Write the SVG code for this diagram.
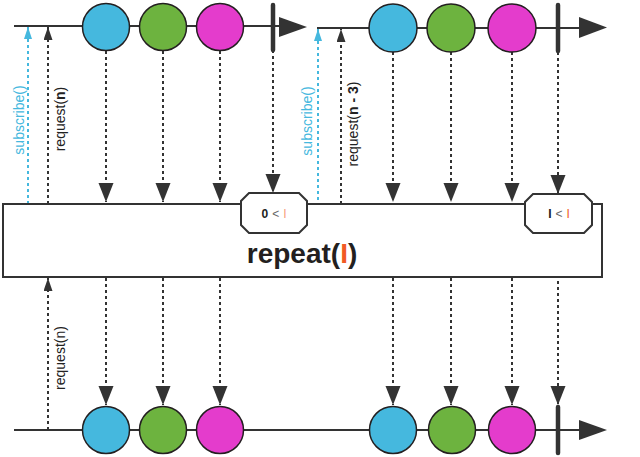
<svg xmlns="http://www.w3.org/2000/svg" width="640" height="457" viewBox="0 0 640 457">
<defs>
<style>
.line{stroke:#333;stroke-width:2;fill:none}
.tick{stroke:#333;stroke-width:4.5;stroke-linecap:round}
.dot{stroke:#333;stroke-width:2;stroke-dasharray:3 3;fill:none}
.bdot{stroke:#45b8de;stroke-width:2;stroke-dasharray:3 3;fill:none}
.head{fill:#333}
.c{stroke:#231f20;stroke-width:1.5}
.blue{fill:#45b8de}.green{fill:#6db33f}.mag{fill:#e43ccc}
.box{fill:#fff;stroke:#333;stroke-width:2}
.lbl{font-family:"Liberation Sans",Arial,sans-serif;font-size:14px;fill:#222}
.blbl{font-family:"Liberation Sans",Arial,sans-serif;font-size:14px;fill:#45b8de}
.small{font-family:"Liberation Sans",Arial,sans-serif;font-size:12px}
</style>
<marker id="down" markerUnits="userSpaceOnUse" markerWidth="20" markerHeight="16" refX="19" refY="7.5" orient="auto"><path d="M0,0 L19,7.5 L0,15 Z" fill="#333"/></marker>
<marker id="up" markerUnits="userSpaceOnUse" markerWidth="14" markerHeight="10" refX="13" refY="4.5" orient="auto"><path d="M0,0 L13,4.5 L0,9 Z" fill="#333"/></marker>
<marker id="upb" markerUnits="userSpaceOnUse" markerWidth="14" markerHeight="10" refX="12" refY="4" orient="auto"><path d="M0,0 L12,4 L0,8 Z" fill="#45b8de"/></marker>
</defs>

<g id="connectors">
<line class="bdot" x1="28" y1="204" x2="28" y2="27" marker-end="url(#upb)"/>
<line class="dot" x1="48" y1="204" x2="48" y2="27" marker-end="url(#up)"/>
<polyline class="bdot" points="307,213 318,213 318,29" marker-end="url(#upb)"/>
<line class="dot" x1="341" y1="204" x2="341" y2="29" marker-end="url(#up)"/>
<line class="dot" x1="106" y1="51" x2="106" y2="202" marker-end="url(#down)"/>
<line class="dot" x1="163" y1="51" x2="163" y2="202" marker-end="url(#down)"/>
<line class="dot" x1="220" y1="51" x2="220" y2="202" marker-end="url(#down)"/>
<line class="dot" x1="273" y1="50" x2="273" y2="193" marker-end="url(#down)"/>
<line class="dot" x1="393" y1="52" x2="393" y2="202" marker-end="url(#down)"/>
<line class="dot" x1="451" y1="52" x2="451" y2="202" marker-end="url(#down)"/>
<line class="dot" x1="512" y1="52" x2="512" y2="202" marker-end="url(#down)"/>
<line class="dot" x1="558" y1="52" x2="558" y2="194" marker-end="url(#down)"/>
<line class="dot" x1="48" y1="430" x2="48" y2="278" marker-end="url(#up)"/>
<line class="dot" x1="106" y1="278" x2="106" y2="405" marker-end="url(#down)"/>
<line class="dot" x1="163" y1="278" x2="163" y2="405" marker-end="url(#down)"/>
<line class="dot" x1="220" y1="278" x2="220" y2="405" marker-end="url(#down)"/>
<line class="dot" x1="393" y1="278" x2="393" y2="405" marker-end="url(#down)"/>
<line class="dot" x1="451" y1="278" x2="451" y2="405" marker-end="url(#down)"/>
<line class="dot" x1="512" y1="278" x2="512" y2="405" marker-end="url(#down)"/>
<line class="dot" x1="558" y1="233" x2="558" y2="405" marker-end="url(#down)"/>
</g>

<g id="timeline-top-1">
<line class="line" x1="14" y1="26" x2="282" y2="26"/>
<path class="head" d="M279,17 L307,27 L279,37 Z"/>
<line class="tick" x1="273" y1="5" x2="273" y2="50"/>
<circle class="c blue" cx="106" cy="27" r="23.5"/>
<circle class="c green" cx="163" cy="27" r="23.5"/>
<circle class="c mag" cx="220" cy="27" r="23.5"/>
</g>

<g id="timeline-top-2">
<line class="line" x1="317" y1="28" x2="582" y2="28"/>
<path class="head" d="M579,17 L607,27.5 L579,38 Z"/>
<line class="tick" x1="558" y1="5" x2="558" y2="51"/>
<circle class="c blue" cx="393" cy="28" r="24"/>
<circle class="c green" cx="451" cy="28" r="24"/>
<circle class="c mag" cx="512" cy="28" r="24"/>
</g>

<g id="labels">
<text class="blbl" transform="translate(24,120) rotate(-90)" text-anchor="middle">subscribe()</text>
<text class="lbl" transform="translate(65,119) rotate(-90)" text-anchor="middle">request(<tspan font-weight="bold">n</tspan>)</text>
<text class="blbl" transform="translate(312,121) rotate(-90)" text-anchor="middle">subscribe()</text>
<text class="lbl" transform="translate(358,124) rotate(-90)" text-anchor="middle">request(<tspan font-weight="bold">n - 3</tspan>)</text>
<text class="lbl" transform="translate(65,358) rotate(-90)" text-anchor="middle">request(n)</text>
</g>

<g id="operator">
<rect class="box" x="3" y="204" width="599" height="73"/>
<text x="302" y="263" text-anchor="middle" font-family="'Liberation Sans',Arial,sans-serif" font-size="28" font-weight="bold" fill="#231f20">repeat(<tspan fill="#f15a24">I</tspan>)</text>
</g>

<g id="cond-1">
<polygon class="box" points="249,193 299,193 307,201 307,225 299,233 249,233 241,225 241,201"/>
<text class="small" x="274" y="218" text-anchor="middle"><tspan font-weight="bold" fill="#222">0</tspan><tspan fill="#666" dx="4">&lt;</tspan><tspan fill="#f7a07c" dx="4">I</tspan></text>
</g>

<g id="cond-2">
<polygon class="box" points="533,194 584,194 592,202 592,225 584,233 533,233 525,225 525,202"/>
<text class="small" x="559" y="218" text-anchor="middle"><tspan font-weight="bold" fill="#222">I</tspan><tspan fill="#666" dx="4">&lt;</tspan><tspan fill="#f15a24" dx="4">I</tspan></text>
</g>

<g id="timeline-bottom">
<line class="line" x1="14" y1="430" x2="582" y2="430"/>
<path class="head" d="M579,420 L607,430 L579,440 Z"/>
<line class="tick" x1="558" y1="407" x2="558" y2="453"/>
<circle class="c blue" cx="106" cy="430" r="23.5"/>
<circle class="c green" cx="163" cy="430" r="23.5"/>
<circle class="c mag" cx="220" cy="430" r="23.5"/>
<circle class="c blue" cx="393" cy="430" r="23.5"/>
<circle class="c green" cx="452" cy="430" r="23.5"/>
<circle class="c mag" cx="512" cy="430" r="23.5"/>
</g>
</svg>
